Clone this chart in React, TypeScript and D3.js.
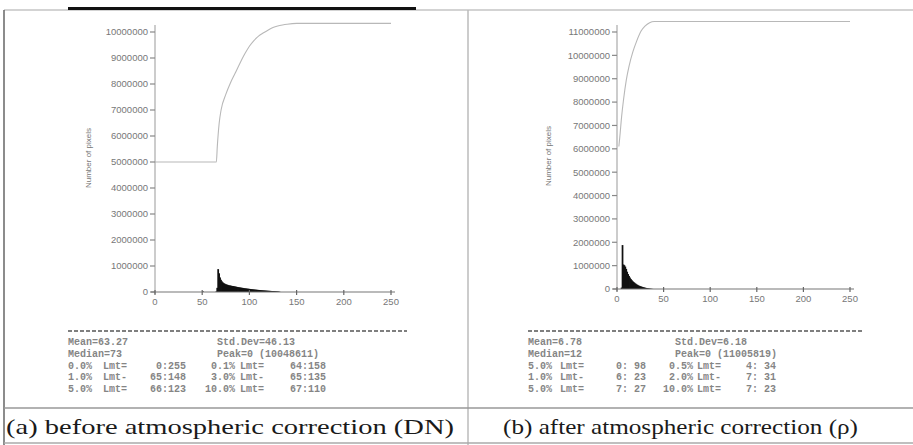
import * as d3 from 'd3';

// histogram bins: [value, pixel count]
const histA: [number, number][] = [
    [50, 22000], [64, 20000], [65, 160000], [66, 880000], [67, 720000], [68, 560000],
    [69, 470000], [70, 410000], [71, 370000], [72, 340000], [73, 320000], [74, 300000],
    [75, 290000], [76, 275000], [77, 265000], [78, 255000], [79, 250000], [80, 240000],
    [81, 232000], [82, 228000], [83, 220000], [84, 212000], [85, 205000], [86, 196000],
    [87, 190000], [88, 182000], [89, 176000], [90, 170000], [91, 163000], [92, 158000],
    [93, 152000], [94, 146000], [95, 141000], [96, 136000], [97, 130000], [98, 126000],
    [99, 121000], [100, 116000], [101, 111000], [102, 106000], [103, 102000], [104, 98000],
    [105, 94000], [106, 90000], [107, 86000], [108, 82000], [109, 79000], [110, 76000],
    [111, 72000], [112, 69000], [113, 66000], [114, 63000], [115, 60000], [116, 57000],
    [117, 54000], [118, 51000], [119, 48000], [120, 46000], [121, 43000], [122, 41000],
    [123, 38000], [124, 36000], [125, 33000], [126, 31000], [127, 28000], [128, 25000],
    [129, 22000], [130, 18000], [131, 12000],
];

const histB: [number, number][] = [
    [4, 60000], [5, 1880000], [6, 1050000], [7, 1020000], [8, 960000], [9, 860000],
    [10, 740000], [11, 640000], [12, 560000], [13, 490000], [14, 430000], [15, 380000],
    [16, 335000], [17, 300000], [18, 265000], [19, 235000], [20, 205000], [21, 180000],
    [22, 158000], [23, 138000], [24, 122000], [25, 108000], [26, 95000], [27, 82000],
    [28, 70000], [29, 59000], [30, 49000], [31, 40000], [32, 32000], [33, 25000],
    [34, 19000], [35, 14000], [36, 9000], [37, 5000],
];

// cumulative curves (as plotted)
const cumA: [number, number][] = [
    [0, 5000000], [65, 5000000], [66, 5600000], [68, 6500000], [70, 7000000], [75, 7600000],
    [80, 8050000], [85, 8420000], [90, 8800000], [95, 9150000], [100, 9450000], [105, 9680000],
    [110, 9850000], [115, 9970000], [120, 10080000], [125, 10170000], [130, 10230000],
    [135, 10270000], [140, 10300000], [150, 10330000], [250, 10330000],
];

const cumB: [number, number][] = [
    [2, 6100000], [3, 6500000], [5, 7400000], [7, 8100000], [10, 8950000], [13, 9550000],
    [17, 10150000], [21, 10600000], [26, 11050000], [30, 11250000], [35, 11400000],
    [40, 11450000], [250, 11450000],
];

const xTicks = [0, 50, 100, 150, 200, 250];
const yTicksA = d3.range(0, 10000001, 1000000);
const yTicksB = d3.range(0, 11000001, 1000000);

const statsHeadA = [['Mean=63.27', 'Std.Dev=46.13'], ['Median=73', 'Peak=0 (10048611)']];
const statsLmtA = [
    ['0.0%', '0:255', '0.1%', '64:158'],
    ['1.0%', '65:148', '3.0%', '65:135'],
    ['5.0%', '66:123', '10.0%', '67:110'],
];
const statsHeadB = [['Mean=6.78', 'Std.Dev=6.18'], ['Median=12', 'Peak=0 (11005819)']];
const statsLmtB = [
    ['5.0%', '0: 98', '0.5%', '4: 34'],
    ['1.0%', '6: 23', '2.0%', '7: 31'],
    ['5.0%', '7: 27', '10.0%', '7: 23'],
];

const captionA = '(a) before atmospheric correction (DN)';
const captionB = '(b) after atmospheric correction (\u03C1)';

type PanelProps = {
    hist: [number, number][];
    cum: [number, number][];
    yTicks: number[];
    yMax: number;
    x0: number;
    x1: number;
    y0: number;
    y1: number;
    labelX: number;
    labelY: number;
    head: string[][];
    lmt: string[][];
    cols: number[];
    tableX: [number, number];
    caption: string;
    capX: [number, number];
};

const tickFont = { fontFamily: '"Liberation Sans", Arial, sans-serif', fontSize: 9.5, fill: '#777' };
const monoFont = { fontFamily: '"Liberation Mono", "DejaVu Sans Mono", monospace', fontSize: 10, fill: '#858585', fontWeight: 600 };

function Panel(p: PanelProps) {
    const x = d3.scaleLinear().domain([0, 250]).range([p.x0, p.x1]);
    const y = d3.scaleLinear().domain([0, p.yMax]).range([p.y0, p.y1]);
    const line = d3.line<[number, number]>()
        .x((d) => x(d[0]))
        .y((d) => y(d[1]))
        .curve(d3.curveMonotoneX);
    const fmt = d3.format('d');
    const rowY = [341, 353, 365, 376, 388];
    const [c1, c2, c3, c4, c5, c6] = p.cols;

    return (
        <g>
            {/* histogram */}
            {p.hist.map(([v, n]) => (
                <rect key={v} x={x(v)} y={y(n)} width={x(v + 1) - x(v) + 0.8} height={p.y0 - y(n)} fill="#111" />
            ))}
            {/* cumulative */}
            <path d={line(p.cum) || ''} fill="none" stroke="#b8b8b8" strokeWidth={1.1} />

            {/* y axis */}
            <line x1={p.x0} x2={p.x0} y1={p.y0 + 2} y2={p.y1 - 7} stroke="#aaa" strokeWidth={1.2} />
            {p.yTicks.map((t) => (
                <g key={t} transform={`translate(0, ${y(t)})`}>
                    <line x1={p.x0 - 5} x2={p.x0} stroke="#888" strokeWidth={1.2} />
                    <text x={p.x0 - 7} dy="0.35em" textAnchor="end" style={tickFont}>{fmt(t)}</text>
                </g>
            ))}
            <text
                transform={`translate(${p.labelX}, ${p.labelY}) rotate(-90)`}
                textAnchor="middle"
                dy="0.35em"
                style={{ ...tickFont, fontSize: 8 }}>Number of pixels</text>

            {/* x axis */}
            <line x1={p.x0 - 4} x2={x(250) + 4} y1={p.y0} y2={p.y0} stroke="#777" strokeWidth={1.2} />
            {xTicks.map((t) => (
                <g key={t} transform={`translate(${x(t)}, ${p.y0})`}>
                    <line y1={-2} y2={3} stroke="#666" strokeWidth={1.2} />
                    <text y={13} textAnchor="middle" style={tickFont}>{t}</text>
                </g>
            ))}

            {/* statistics table */}
            <line x1={p.tableX[0]} x2={p.tableX[1]} y1={331} y2={331} stroke="#555" strokeWidth={1.3} strokeDasharray="4,2" />
            {p.head.map((r, i) => (
                <g key={'h' + i}>
                    <text x={c1} y={rowY[i]} dy="0.35em" style={monoFont}>{r[0]}</text>
                    <text x={c4 - 18} y={rowY[i]} dy="0.35em" style={monoFont}>{r[1]}</text>
                </g>
            ))}
            {p.lmt.map((r, i) => (
                <g key={'l' + i}>
                    <text x={c1 + 24} y={rowY[i + 2]} dy="0.35em" textAnchor="end" style={monoFont}>{r[0]}</text>
                    <text x={c2} y={rowY[i + 2]} dy="0.35em" style={monoFont}>{i === 1 ? 'Lmt-' : 'Lmt='}</text>
                    <text x={c3} y={rowY[i + 2]} dy="0.35em" textAnchor="end" style={monoFont}>{r[1]}</text>
                    <text x={c4} y={rowY[i + 2]} dy="0.35em" textAnchor="end" style={monoFont}>{r[2]}</text>
                    <text x={c5} y={rowY[i + 2]} dy="0.35em" style={monoFont}>{i === 1 ? 'Lmt-' : 'Lmt='}</text>
                    <text x={c6} y={rowY[i + 2]} dy="0.35em" textAnchor="end" style={monoFont}>{r[3]}</text>
                </g>
            ))}

            {/* caption */}
            <text
                x={p.capX[0]}
                y={434}
                textLength={p.capX[1] - p.capX[0]}
                lengthAdjust="spacingAndGlyphs"
                style={{ fontFamily: '"Liberation Serif", "Times New Roman", serif', fontSize: 22, fill: '#1a1a1a' }}>
                {p.caption}
            </text>
        </g>
    );
}

export default function App() {
    return (
        <svg width={913} height={445} style={{ position: 'absolute', left: 0, top: 0, background: '#fff' }}>
            <rect width={913} height={445} fill="#fff" />
            {/* frame */}
            <line x1={4} x2={913} y1={10} y2={10} stroke="#c4c4c4" strokeWidth={1.5} />
            <rect x={68} y={7} width={348} height={3} fill="#111" />
            <line x1={4} x2={4} y1={10} y2={445} stroke="#666" strokeWidth={1.5} />
            <line x1={468} x2={468} y1={10} y2={445} stroke="#bbb" strokeWidth={1.5} />
            <line x1={4} x2={913} y1={408} y2={408} stroke="#999" strokeWidth={1.3} />
            <line x1={4} x2={913} y1={443} y2={443} stroke="#aaa" strokeWidth={1.3} />

            <Panel
                hist={histA} cum={cumA} yTicks={yTicksA} yMax={10000000}
                x0={155} x1={391} y0={292} y1={32}
                labelX={88} labelY={158}
                head={statsHeadA} lmt={statsLmtA}
                cols={[68, 103, 186, 235, 240, 326]}
                tableX={[68, 407]}
                caption={captionA} capX={[6, 454]} />
            <Panel
                hist={histB} cum={cumB} yTicks={yTicksB} yMax={11000000}
                x0={617} x1={850} y0={289} y1={32}
                labelX={548} labelY={156}
                head={statsHeadB} lmt={statsLmtB}
                cols={[528, 560, 646, 693, 697, 776]}
                tableX={[528, 862]}
                caption={captionB} capX={[503, 858]} />
        </svg>
    );
}
